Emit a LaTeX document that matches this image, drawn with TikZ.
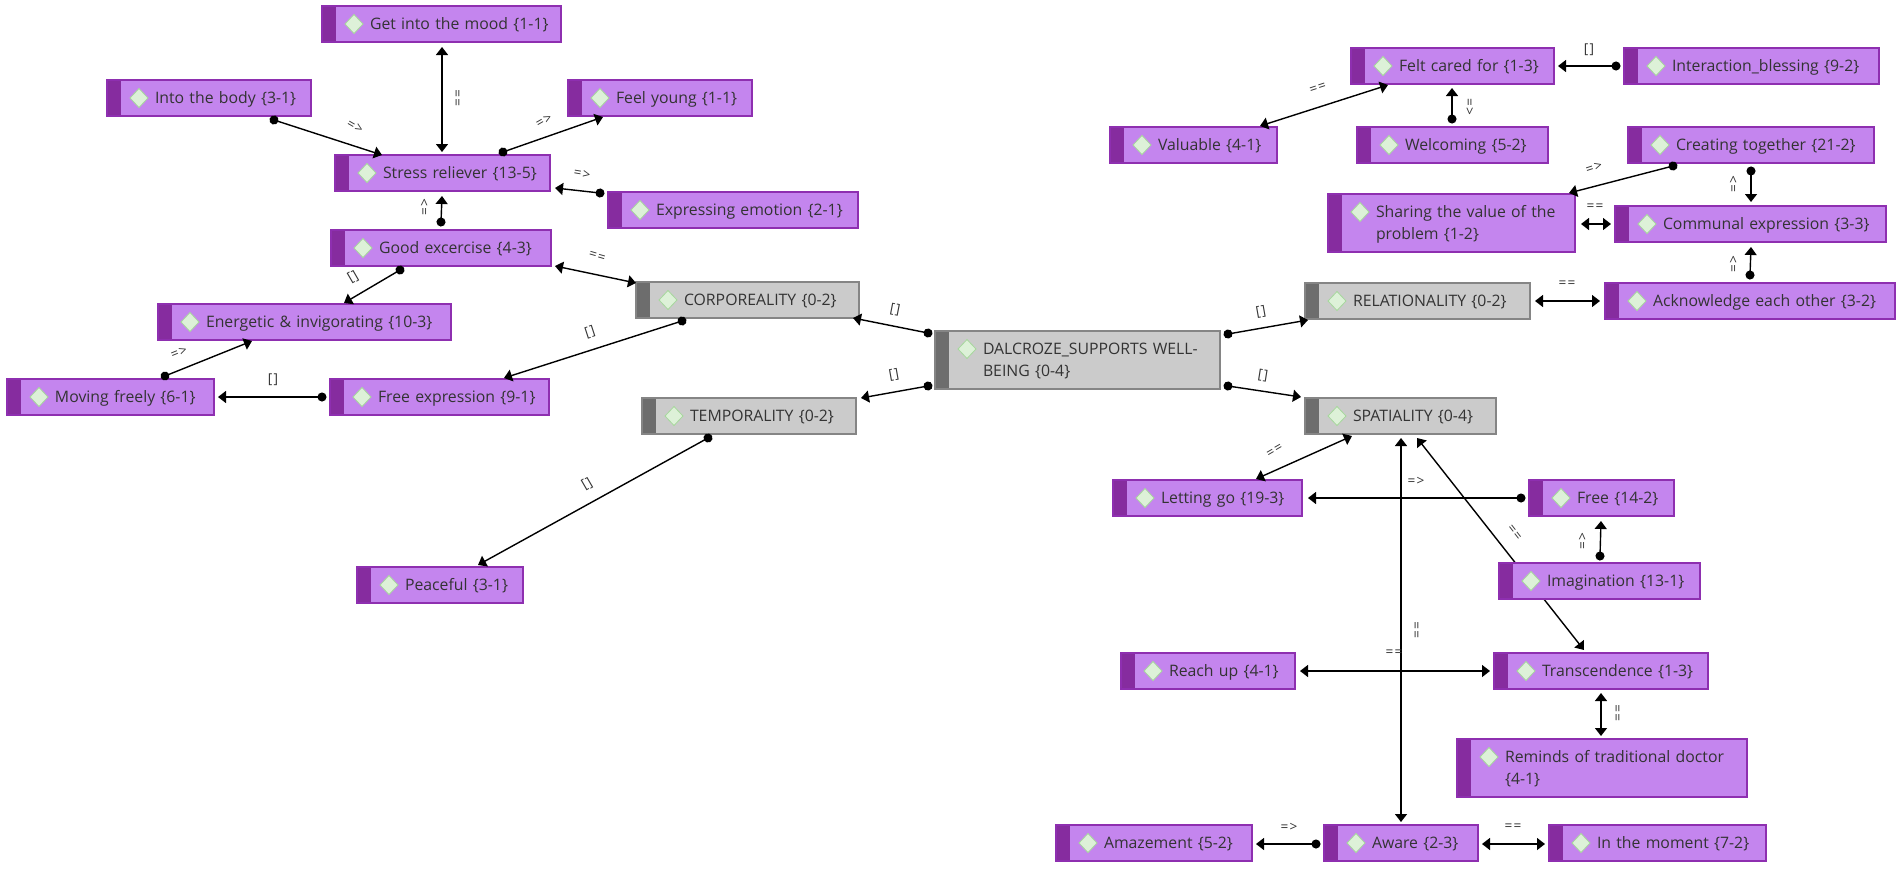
\documentclass[tikz,border=0pt]{standalone}
\usepackage{fontspec}
\setmainfont{Open Sans}
\usetikzlibrary{arrows.meta,backgrounds}

\definecolor{codefill}{HTML}{C485EE}
\definecolor{codeedge}{HTML}{8E2FB0}
\definecolor{codestrip}{HTML}{862C9F}
\definecolor{themefill}{HTML}{CBCBCB}
\definecolor{themeedge}{HTML}{858585}
\definecolor{themestrip}{HTML}{6D6D6D}
\definecolor{gemfill}{HTML}{DDF1D8}
\definecolor{gemedge}{HTML}{A6D89C}
\definecolor{inktext}{HTML}{333333}

\tikzset{
    basebox/.style n args={4}{
        draw=#2, fill=#1, line width=0.55pt, rectangle, anchor=north west,
        minimum width=0.5pt*#4, text width=0.5pt*#4, minimum height=18pt,
        inner xsep=0pt, inner ysep=0pt, outer sep=0pt,
        text height=7pt, text depth=1.7pt,
        font=\fontsize{7.9}{11}\selectfont, text=inktext, align=left,
        execute at begin node={\leftskip=24pt},
        path picture={
            \fill[#3] (path picture bounding box.north west) rectangle
                ([xshift=7pt]path picture bounding box.south west);
            \filldraw[fill=gemfill, draw=gemedge, line width=0.4pt]
                ([shift={(23,18)}]path picture bounding box.north west) --
                ([shift={(32,8.5)}]path picture bounding box.north west) --
                ([shift={(41,18)}]path picture bounding box.north west) --
                ([shift={(32,27.5)}]path picture bounding box.north west) -- cycle;
        }
    },
    codebox/.style={basebox={codefill}{codeedge}{codestrip}{#1}},
    themebox/.style={basebox={themefill}{themeedge}{themestrip}{#1}},
    doublebox/.style={minimum height=29pt, text depth=12.7pt},
    twolink/.style={{Triangle[width=6pt,length=4pt]}-{Triangle[width=6pt,length=4pt]}, line width=0.7pt},
    dotlink/.style={{Circle[length=4.5pt]}-{Triangle[width=6pt,length=4pt]}, line width=0.7pt, shorten <=-2.25pt},
    linklabel/.style={font=\fontsize{6.8}{8}\selectfont\addfontfeatures{LetterSpace=8}, text=inktext, inner sep=0pt}
}

\begin{document}
\begin{tikzpicture}[x=0.5pt,y=-0.5pt]
    \useasboundingbox (0,0) rectangle (1902,868);

    % left side
    \node[codebox=239] (mood) at (322,6) {Get into the mood \{1-1\}};
    \node[codebox=204] (intobody) at (107,80) {Into the body \{3-1\}};
    \node[codebox=184] (feelyoung) at (568,80) {Feel young \{1-1\}};
    \node[codebox=215] (stress) at (335,155) {Stress reliever \{13-5\}};
    \node[codebox=250] (expressing) at (608,192) {Expressing emotion \{2-1\}};
    \node[codebox=220] (goodex) at (331,230) {Good excercise \{4-3\}};
    \node[codebox=293] (energetic) at (158,304) {Energetic \& invigorating \{10-3\}};
    \node[themebox=223] (corporeality) at (636,282) {CORPOREALITY \{0-2\}};
    \node[codebox=207] (moving) at (7,379) {Moving freely \{6-1\}};
    \node[codebox=219] (freeexp) at (330,379) {Free expression \{9-1\}};
    \node[themebox=214] (temporality) at (642,398) {TEMPORALITY \{0-2\}};
    \node[codebox=166] (peaceful) at (357,567) {Peaceful \{3-1\}};

    % centre
    \node[themebox=285, doublebox] (central) at (935,331) {DALCROZE\_SUPPORTS WELL-\\BEING \{0-4\}};

    % top right
    \node[codebox=203] (felt) at (1351,48) {Felt cared for \{1-3\}};
    \node[codebox=255] (interaction) at (1624,48) {Interaction\_blessing \{9-2\}};
    \node[codebox=167] (valuable) at (1110,127) {Valuable \{4-1\}};
    \node[codebox=191] (welcoming) at (1357,127) {Welcoming \{5-2\}};
    \node[codebox=246] (creating) at (1628,127) {Creating together \{21-2\}};
    \node[codebox=247, doublebox] (sharing) at (1328,194) {Sharing the value of the\\problem \{1-2\}};
    \node[codebox=271] (communal) at (1615,206) {Communal expression \{3-3\}};
    \node[themebox=225] (relationality) at (1305,283) {RELATIONALITY \{0-2\}};
    \node[codebox=290] (acknowledge) at (1605,283) {Acknowledge each other \{3-2\}};

    % bottom right
    \node[themebox=191] (spatiality) at (1305,398) {SPATIALITY \{0-4\}};
    \node[codebox=189] (letting) at (1113,480) {Letting go \{19-3\}};
    \node[codebox=145] (free) at (1529,480) {Free \{14-2\}};
    \node[codebox=201] (imagination) at (1499,563) {Imagination \{13-1\}};
    \node[codebox=174] (reach) at (1121,653) {Reach up \{4-1\}};
    \node[codebox=214] (transcendence) at (1494,653) {Transcendence \{1-3\}};
    \node[codebox=290, doublebox] (reminds) at (1457,739) {Reminds of traditional doctor\\\{4-1\}};
    \node[codebox=196] (amazement) at (1056,825) {Amazement \{5-2\}};
    \node[codebox=154] (aware) at (1324,825) {Aware \{2-3\}};
    \node[codebox=217] (moment) at (1549,825) {In the moment \{7-2\}};

    % connectors, left side
    \draw[twolink] ([shift={(120,41)}]mood.north west) -- ([shift={(107,-3)}]stress.north west);
    \draw[dotlink] ([shift={(167,40)}]intobody.north west) -- ([shift={(47,0)}]stress.north west);
    \draw[dotlink] ([shift={(168,-3)}]stress.north west) -- ([shift={(35,37)}]feelyoung.north west);
    \draw[dotlink] ([shift={(-8,1)}]expressing.north west) -- ([shift={(220,33)}]stress.north west);
    \draw[dotlink] ([shift={(110,-8)}]goodex.north west) -- ([shift={(107,41)}]stress.north west);
    \draw[twolink] ([shift={(224,36)}]goodex.north west) -- ([shift={(0,1)}]corporeality.north west);
    \draw[dotlink] ([shift={(69,40)}]goodex.north west) -- ([shift={(186,-1)}]energetic.north west);
    \draw[dotlink] ([shift={(158,-3)}]moving.north west) -- ([shift={(94,37)}]energetic.north west);
    \draw[dotlink] ([shift={(-8,18)}]freeexp.north west) -- ([shift={(211,18)}]moving.north west);
    \draw[dotlink] ([shift={(46,39)}]corporeality.north west) -- ([shift={(174,-1)}]freeexp.north west);
    \draw[dotlink] ([shift={(-7,2)}]central.north west) -- ([shift={(217,36)}]corporeality.north west);
    \draw[dotlink] ([shift={(-7,55)}]central.north west) -- ([shift={(219,0)}]temporality.north west);
    \draw[dotlink] ([shift={(66,40)}]temporality.north west) -- ([shift={(121,-2)}]peaceful.north west);

    % connectors, top right
    \draw[dotlink] ([shift={(-8,18)}]interaction.north west) -- ([shift={(207,18)}]felt.north west);
    \draw[twolink] ([shift={(37,37)}]felt.north west) -- ([shift={(150,-1)}]valuable.north west);
    \draw[dotlink] ([shift={(95,-8)}]welcoming.north west) -- ([shift={(101,40)}]felt.north west);
    \draw[dotlink] ([shift={(45,39)}]creating.north west) -- ([shift={(241,-1)}]sharing.north west);
    \draw[dotlink] ([shift={(123,44)}]creating.north west) -- ([shift={(136,-4)}]communal.north west);
    \draw[twolink] ([shift={(253,30)}]sharing.north west) -- ([shift={(-4,18)}]communal.north west);
    \draw[dotlink] ([shift={(145,-8)}]acknowledge.north west) -- ([shift={(136,41)}]communal.north west);
    \draw[twolink] ([shift={(230,18)}]relationality.north west) -- ([shift={(-5,18)}]acknowledge.north west);
    \draw[dotlink] ([shift={(293,3)}]central.north west) -- ([shift={(3,37)}]relationality.north west);
    \draw[dotlink] ([shift={(293,55)}]central.north west) -- ([shift={(-4,-1)}]spatiality.north west);

    % connectors, bottom right
    \draw[twolink] ([shift={(143,-1)}]letting.north west) -- ([shift={(47,38)}]spatiality.north west);
    \draw[dotlink] ([shift={(-8,18)}]free.north west) -- ([shift={(195,18)}]letting.north west);
    \draw[twolink] ([shift={(77,-3)}]aware.north west) -- ([shift={(96,40)}]spatiality.north west);
    % this one runs behind the imagination box
    \begin{scope}[on background layer]
        \draw[twolink] ([shift={(90,-3)}]transcendence.north west) -- ([shift={(112,40)}]spatiality.north west);
    \end{scope}
    \draw[dotlink] ([shift={(101,-7)}]imagination.north west) -- ([shift={(72,41)}]free.north west);
    \draw[twolink] ([shift={(179,18)}]reach.north west) -- ([shift={(-4,18)}]transcendence.north west);
    \draw[twolink] ([shift={(107,40)}]transcendence.north west) -- ([shift={(144,-3)}]reminds.north west);
    \draw[dotlink] ([shift={(-8,19)}]aware.north west) -- ([shift={(200,19)}]amazement.north west);
    \draw[twolink] ([shift={(158,19)}]aware.north west) -- ([shift={(-4,19)}]moment.north west);

    % link labels
    \foreach \lname/\lx/\ly/\lrot/\ltext in {
        a/459/98/90/{==}, b/355/127/-30/{=>}, c/544/121/30/{=>}, d/582/174/-10/{=>},
        e/425/207/90/{=>}, f/597/257/-16/{==}, g/353/277/30/{[]}, h/179/353/22/{=>},
        i/273/380/0/{[]}, j/590/332/18/{[]}, k/895/310/-11/{[]},
        m/894/375/10/{[]}, n/587/484/30/{[]},
        o/1589/50/0/{[]}, p/1318/89/18/{==}, q/1469/107/-90/{=>}, r/1594/168/18/{=>},
        s/1734/184/90/{=>}, t/1595/207/0/{==}, u/1734/264/90/{=>}, v/1567/284/0/{==},
        w/1261/312/10/{[]}, x/1263/376/-9/{[]},
        y/1275/451/30/{==}, z/1416/481/0/{=>}, aa/1418/630/90/{==}, ab/1514/533/-52/{==},
        ac/1583/541/90/{=>}, ad/1394/653/0/{==}, ae/1619/713/90/{==}, af/1289/827/0/{=>},
        ag/1513/827/0/{==}}
        \node[linklabel, rotate=\lrot] (lab\lname) at (\lx,\ly) {\ltext};
\end{tikzpicture}
\end{document}
